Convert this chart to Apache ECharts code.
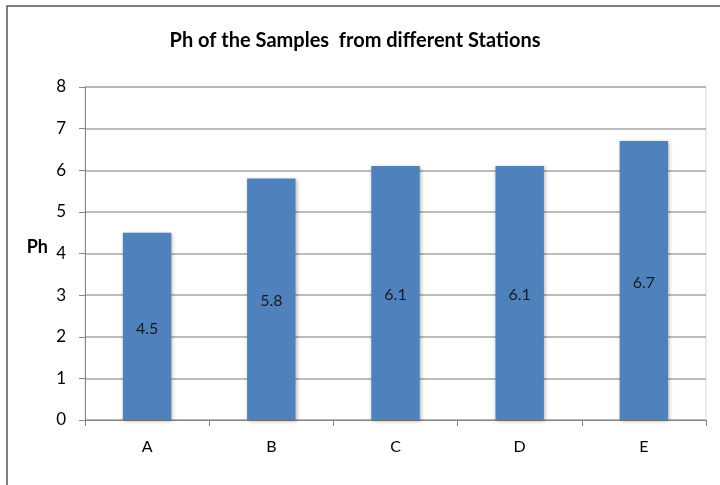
<!DOCTYPE html>
<html>
<head>
<meta charset="utf-8">
<script src="https://cdn.jsdelivr.net/npm/echarts@6/dist/echarts.min.js"></script>
<style>
html,body{margin:0;padding:0;background:#fff;}
#chart{width:720px;height:485px;}
</style>
</head>
<body>
<div id="chart"></div>
<script>
const categories = ['A', 'B', 'C', 'D', 'E'];
const phValues = [4.5, 5.8, 6.1, 6.1, 6.7];
const titleText = 'Ph of the Samples  from different Stations';
const yAxisName = 'Ph';

const chart = echarts.init(document.getElementById('chart'), null, {renderer: 'canvas'});
const FONT = 'Lato, "Open Sans", sans-serif';
chart.setOption({
  animation: false,
  backgroundColor: '#ffffff',
  textStyle: {fontFamily: FONT},
  title: {
    text: titleText,
    left: 350,
    textAlign: 'center',
    top: 26,
    textStyle: {fontFamily: FONT, fontWeight: 'bold', fontSize: 20, color: '#000'}
  },
  graphic: [{
    type: 'rect',
    shape: {x: 7, y: 6, width: 730, height: 500},
    style: {fill: 'none', stroke: '#555', lineWidth: 1.5},
    silent: true
  }],
  grid: {left: 85, right: 14, top: 87, bottom: 65, show: true, borderColor: '#d9d9d9', borderWidth: 1, backgroundColor: 'transparent'},
  xAxis: {
    type: 'category',
    data: categories,
    axisLine: {show: true, lineStyle: {color: '#868686', width: 1}},
    axisTick: {show: true, length: 6, alignWithLabel: false, lineStyle: {color: '#868686'}},
    axisLabel: {color: '#000', fontSize: 16, fontFamily: FONT, margin: 19}
  },
  yAxis: {
    type: 'value',
    min: 0, max: 8, interval: 1,
    name: yAxisName,
    nameLocation: 'middle',
    nameRotate: 0,
    nameGap: 37,
    nameTextStyle: {fontWeight: 'bold', fontSize: 18, color: '#000', fontFamily: FONT, verticalAlign: 'bottom', padding: [0, 0, -3, 0]},
    axisLine: {show: true, lineStyle: {color: '#868686', width: 1}},
    axisTick: {show: true, length: 6, lineStyle: {color: '#868686'}},
    axisLabel: {color: '#000', fontSize: 17, fontFamily: FONT, margin: 19},
    splitLine: {show: true, lineStyle: {color: '#a6a6a6', width: 1.5}}
  },
  series: [{
    type: 'bar',
    data: phValues,
    barWidth: '39%',
    itemStyle: {
      color: '#4F81BD',
      shadowBlur: 4,
      shadowColor: 'rgba(0,0,0,0.3)',
      shadowOffsetX: 1,
      shadowOffsetY: 1
    },
    label: {
      show: true,
      position: 'inside',
      offset: [0, 2],
      color: '#1a1a1a',
      fontSize: 16,
      fontFamily: FONT
    }
  }]
});
</script>
</body>
</html>
